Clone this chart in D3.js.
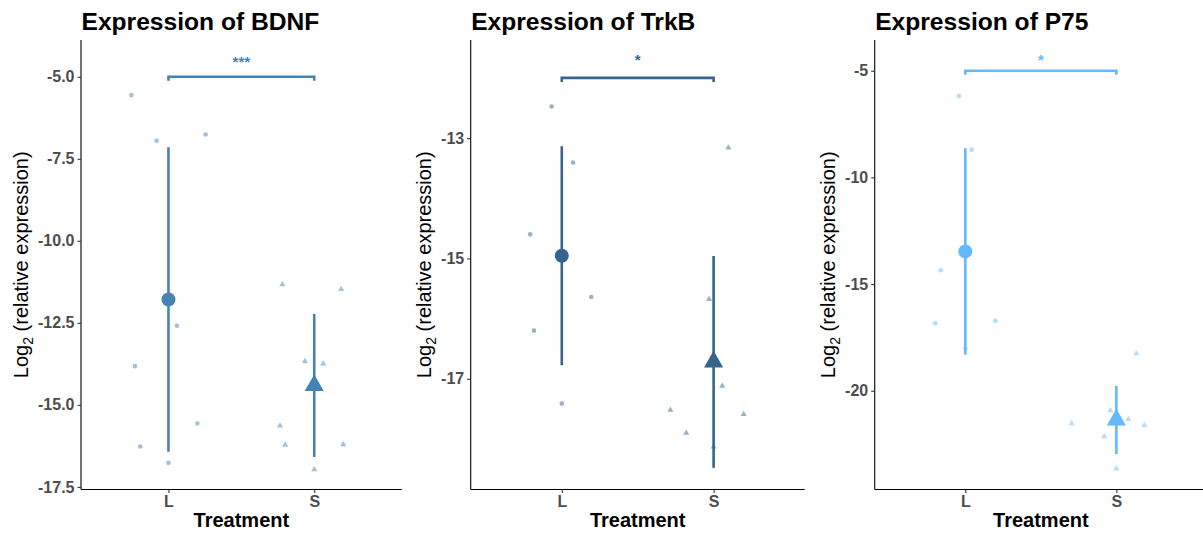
<!DOCTYPE html>
<html><head><meta charset="utf-8">
<script src="https://cdn.jsdelivr.net/npm/d3@7"></script>
<style>
body{margin:0;background:#fff;}
text{font-family:"Liberation Sans",Arial,sans-serif;}
</style></head>
<body><svg id="c" width="1203" height="533"></svg>
<script>
// ---- data ----
const treatments = ["L", "S"];
const titles = ["Expression of BDNF", "Expression of TrkB", "Expression of P75"];
const colors = ["#4682B4", "#36648B", "#63B8FF"];

// individual samples (log2 relative expression) and horizontal jitter (fraction of category step)
const bdnfL = [-5.56, -6.95, -6.76, -12.59, -13.82, -15.57, -16.27, -16.77];
const bdnfLJit = [-0.255, -0.081, 0.255, 0.058, -0.230, 0.198, -0.193, 0.0];
const bdnfS = [-11.33, -11.48, -13.67, -13.75, -15.64, -16.22, -16.21, -16.97];
const bdnfSJit = [-0.219, 0.185, -0.064, 0.062, -0.235, -0.199, 0.199, 0.0];

const trkbL = [-12.475, -13.405, -14.60, -15.64, -16.20, -17.41];
const trkbLJit = [-0.067, 0.074, -0.208, 0.194, -0.183, 0.0];
const trkbS = [-13.16, -15.68, -17.12, -17.52, -17.59, -17.90, -18.13];
const trkbSJit = [0.097, -0.030, 0.057, -0.285, 0.198, -0.180, 0.0];

const p75L = [-6.18, -8.70, -14.35, -16.84, -16.72, -18.03];
const p75LJit = [-0.042, 0.042, -0.163, -0.199, 0.199, 0.0];
const p75S = [-18.25, -20.93, -21.34, -21.54, -21.62, -22.14, -23.65];
const p75SJit = [0.132, -0.040, 0.079, -0.296, 0.185, -0.080, 0.0];

// group means and error half-widths (L, S)
const bdnfMean = [-11.79, -14.41], bdnfErr = [4.64, 2.18];
const trkbMean = [-14.955, -16.72], trkbErr = [1.82, 1.76];
const p75Mean = [-13.47, -21.37], p75Err = [4.84, 1.60];

// axis ticks and limits
const bdnfTicks = [-17.5, -15, -12.5, -10, -7.5, -5];
const trkbTicks = [-17, -15, -13];
const p75Ticks = [-20, -15, -10, -5];
const bdnfLim = [-17.58, -3.88];
const trkbLim = [-18.84, -11.37];
const p75Lim = [-24.63, -3.56];
const tickFormats = [".1f", "d", "d"];

// significance brackets
const sigLabels = ["***", "*", "*"];
const sigLineY = [-5, -12, -5];
const sigTextY = [-4.43, -11.64, -4.34];

// ---- layout ----
const svg = d3.select("#c");
const plotX = [[81, 401.7], [470.7, 804.7], [874.7, 1207]];
const plotTop = 40, plotBottom = 489.5;

const panels = [
  {L: bdnfL, LJ: bdnfLJit, S: bdnfS, SJ: bdnfSJit, mean: bdnfMean, err: bdnfErr, ticks: bdnfTicks, lim: bdnfLim},
  {L: trkbL, LJ: trkbLJit, S: trkbS, SJ: trkbSJit, mean: trkbMean, err: trkbErr, ticks: trkbTicks, lim: trkbLim},
  {L: p75L, LJ: p75LJit, S: p75S, SJ: p75SJit, mean: p75Mean, err: p75Err, ticks: p75Ticks, lim: p75Lim}
];

panels.forEach((p, i) => {
  const col = colors[i];
  const [x0, x1] = plotX[i];
  const x = d3.scalePoint().domain(treatments).range([x0, x1]).padding(0.6);
  const step = x.step();
  const y = d3.scaleLinear().domain(p.lim).range([plotBottom, plotTop]);
  const g = svg.append("g");
  const fmt = d3.format(tickFormats[i]);

  // title
  g.append("text").attr("x", x0 + 0.5).attr("y", 29.5)
    .attr("font-size", 24.6).attr("font-weight", "bold").attr("fill", "#000")
    .text(titles[i]);

  // y axis
  const ya = g.append("g").attr("transform", `translate(${x0},0)`)
    .call(d3.axisLeft(y).tickValues(p.ticks).tickFormat(d => fmt(d).replace("\u2212", "-")).tickSize(3.5).tickPadding(3));
  ya.select(".domain").attr("stroke", "#000").attr("stroke-width", 1.1).attr("d", `M0,${plotTop}V${plotBottom}`);
  ya.selectAll(".tick line").attr("stroke", "#333").attr("stroke-width", 1.1);
  ya.selectAll(".tick text").attr("font-size", 16).attr("font-weight", "bold").attr("fill", "#4D4D4D")
    .attr("font-family", "Liberation Sans, Arial, sans-serif");
  let minX = 0;
  ya.selectAll(".tick text").each(function(){ const b = this.getBBox(); minX = Math.min(minX, b.x); });

  // x axis
  const xa = g.append("g").attr("transform", `translate(0,${plotBottom})`)
    .call(d3.axisBottom(x).tickSize(3.5).tickPadding(2.5));
  xa.select(".domain").attr("stroke", "#000").attr("stroke-width", 1.1).attr("d", `M${x0},0H${x1}`);
  xa.selectAll(".tick line").attr("stroke", "#333").attr("stroke-width", 1.1);
  xa.selectAll(".tick text").attr("font-size", 16).attr("font-weight", "bold").attr("fill", "#4D4D4D")
    .attr("font-family", "Liberation Sans, Arial, sans-serif");

  // axis titles
  g.append("text").attr("x", (x0 + x1) / 2).attr("y", 527).attr("text-anchor", "middle")
    .attr("font-size", 20).attr("font-weight", "bold").attr("fill", "#000").text("Treatment");
  const yt = g.append("text")
    .attr("transform", `translate(${x0 + minX - 10.5},${(plotTop + plotBottom) / 2}) rotate(-90)`)
    .attr("text-anchor", "middle").attr("font-size", 20).attr("fill", "#000");
  yt.append("tspan").text("Log");
  yt.append("tspan").attr("font-size", 14).attr("dy", 5).text("2");
  yt.append("tspan").attr("dy", -5).text(" (relative expression)");

  // error bars
  g.selectAll(".eb").data(treatments).join("line")
    .attr("x1", d => x(d)).attr("x2", d => x(d))
    .attr("y1", (d, k) => y(p.mean[k] + p.err[k])).attr("y2", (d, k) => y(p.mean[k] - p.err[k]))
    .attr("stroke", col).attr("stroke-width", 2.6);

  // means
  g.append("circle").attr("cx", x("L")).attr("cy", y(p.mean[0])).attr("r", 7).attr("fill", col);
  g.append("path").attr("d", d3.symbol(d3.symbolTriangle, 160)())
    .attr("transform", `translate(${x("S")},${y(p.mean[1])})`).attr("fill", col);

  // individual points
  g.selectAll(".pl").data(p.L).join("circle")
    .attr("cx", (d, k) => x("L") + p.LJ[k] * step).attr("cy", d => y(d)).attr("r", 2.3)
    .attr("fill", col).attr("fill-opacity", 0.5);
  g.selectAll(".ps").data(p.S).join("path")
    .attr("d", d3.symbol(d3.symbolTriangle, 16)())
    .attr("transform", (d, k) => `translate(${x("S") + p.SJ[k] * step},${y(d)})`)
    .attr("fill", col).attr("fill-opacity", 0.5);

  // significance bracket
  const by = y(sigLineY[i]);
  g.append("path").attr("d", `M${x("L")},${by + 4}V${by}H${x("S")}V${by + 4}`)
    .attr("fill", "none").attr("stroke", col).attr("stroke-width", 2.6);
  g.append("text").attr("x", (x("L") + x("S")) / 2).attr("y", y(sigTextY[i]) + 8.5)
    .attr("text-anchor", "middle").attr("font-size", 15).attr("font-weight", "bold").attr("fill", col).text(sigLabels[i]);
});
</script></body></html>
